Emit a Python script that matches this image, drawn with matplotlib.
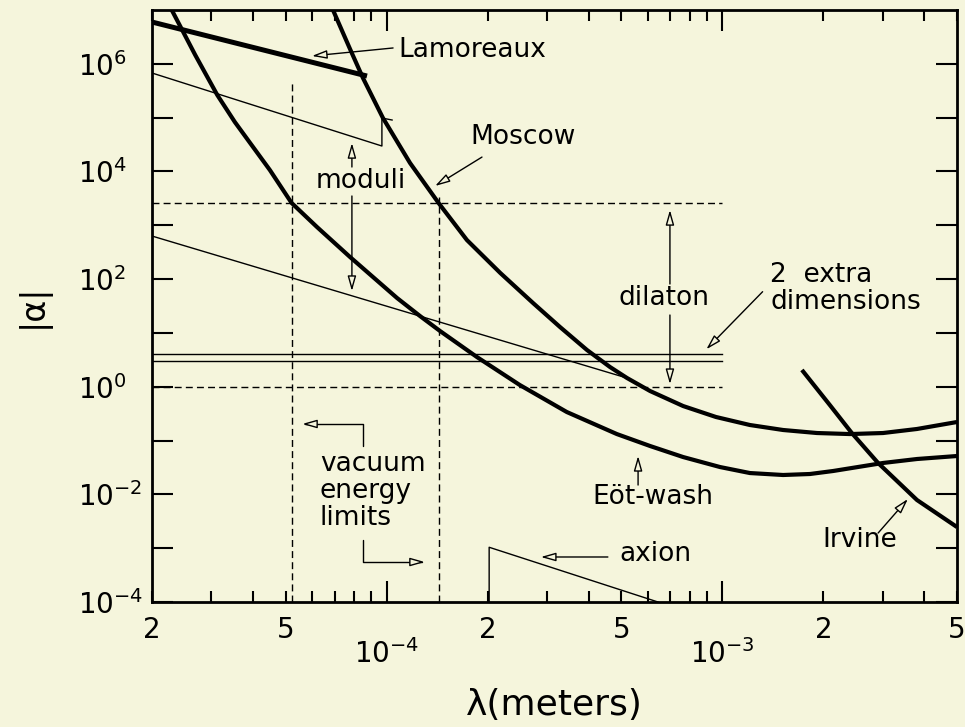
import numpy as np
import matplotlib.pyplot as plt

bg = '#F5F5DC'

# thick experimental limit curves (lambda in m, |alpha|)
eot_x = [2.29e-5, 2.46e-5, 2.69e-5, 3.13e-5, 3.53e-5, 3.92e-5, 4.49e-5, 5.21e-5,
         6.20e-5, 7.78e-5, 1.074e-4, 1.257e-4, 1.442e-4, 1.858e-4, 2.49e-4, 3.44e-4,
         4.85e-4, 6.09e-4, 7.64e-4, 9.84e-4, 1.208e-3, 1.517e-3, 1.824e-3, 2.14e-3,
         3.01e-3, 3.80e-3, 5.0e-3]
eot_y = [1.0e7, 4.25e6, 1.46e6, 2.63e5, 8.29e4, 3.38e4, 1.06e4, 2.6e3,
         929, 257, 44.5, 20.6, 10.85, 3.56, 1.08, 0.339,
         0.132, 0.0792, 0.0494, 0.0322, 0.0249, 0.0229, 0.0239, 0.0272,
         0.0383, 0.0454, 0.0516]

mos_x = [6.92e-5, 7.78e-5, 8.50e-5, 9.75e-5, 1.174e-4, 1.43e-4, 1.734e-4, 2.18e-4,
         2.73e-4, 3.284e-4, 3.952e-4, 4.627e-4, 5.20e-4, 6.09e-4, 7.64e-4, 9.57e-4,
         1.208e-3, 1.517e-3, 1.914e-3, 2.40e-3, 3.01e-3, 3.80e-3, 5.0e-3]
mos_y = [1.0e7, 1.88e6, 5.45e5, 9.84e4, 1.435e4, 2.56e3, 532, 130,
         35.9, 12.87, 4.81, 2.325, 1.452, 0.833, 0.438, 0.274,
         0.1944, 0.157, 0.138, 0.132, 0.138, 0.164, 0.221]

irv_x = [1.726e-3, 2.09e-3, 2.43e-3, 2.91e-3, 3.80e-3, 5.0e-3]
irv_y = [2.05, 0.457, 0.138, 0.0383, 7.85e-3, 2.47e-3]

lam_x = [2.0e-5, 8.74e-5]
lam_y = [5.98e6, 5.93e5]

# thin theory lines
mod1_x = [2.0e-5, 9.68e-5, 9.68e-5, 1.038e-4]
mod1_y = [6.75e5, 2.97e4, 9.84e4, 9.03e4]
mod2_x = [2.0e-5, 5.20e-4]
mod2_y = [631, 1.45]
extra_y = [4.0, 3.0]
axion_x = [2.02e-4, 2.02e-4, 6.43e-4]
axion_y = [1.0e-4, 1.04e-3, 1.0e-4]

# dashed guide lines
dash_h = [2.56e3, 1.0]
dash_v_x = [5.21e-5, 1.43e-4]
dash_v_top = [4.8e5, 3.35e3]

ytick_vals = 10.0 ** np.arange(-4, 7)
ytick_labels = ['$10^{%d}$' % e if e % 2 == 0 else '' for e in range(-4, 7)]
xmaj = [1e-4, 1e-3]
xmaj_labels = ['$10^{-4}$', '$10^{-3}$']
xmin = [m * 10.0 ** e for e in (-5, -4, -3) for m in range(2, 10) if m * 10.0 ** e <= 5e-3]
xmin_labels = [str(int(round(v / 10 ** np.floor(np.log10(v))))) if round(v / 10 ** np.floor(np.log10(v))) in (2, 5) else ''
               for v in xmin]

fig = plt.figure(figsize=(9.65, 7.27), dpi=100, facecolor=bg)
ax = fig.add_axes([152 / 965, 1 - 602 / 727, 805 / 965, 592 / 727])
ax.set_facecolor(bg)
ax.set_xscale('log')
ax.set_yscale('log')
ax.set_xlim(2e-5, 5e-3)
ax.set_ylim(1e-4, 1e7)

thick = dict(color='k', lw=3.0, solid_capstyle='butt', solid_joinstyle='round')
thin = dict(color='k', lw=1.0)
dash = dict(color='k', lw=1.0, ls=(0, (5, 3)))

ax.plot(eot_x, eot_y, **thick)
ax.plot(mos_x, mos_y, **thick)
ax.plot(irv_x, irv_y, **thick)
ax.plot(lam_x, lam_y, color='k', lw=3.6, solid_capstyle='butt')

ax.plot(mod1_x, mod1_y, **thin)
ax.plot(mod2_x, mod2_y, **thin)
for v in extra_y:
    ax.plot([2e-5, 1e-3], [v, v], **thin)
ax.plot(axion_x, axion_y, **thin)

for v in dash_h:
    ax.plot([2e-5, 1e-3], [v, v], **dash)
for xv, top in zip(dash_v_x, dash_v_top):
    ax.plot([xv, xv], [1e-4, top], **dash)

# annotations
fs = 19
aprops = dict(arrowstyle='-|>,head_length=0.6,head_width=0.17', fc=bg, ec='k',
              lw=1.0, mutation_scale=15, shrinkA=0, shrinkB=0)


def arrow(tail, tip, conn='arc3'):
    ax.annotate('', xy=tip, xytext=tail, arrowprops=dict(aprops, connectionstyle=conn))


ax.text(1.081e-4, 1.80e6, 'Lamoreaux', fontsize=fs, ha='left', va='center')
arrow((1.045e-4, 1.97e6), (5.99e-5, 1.40e6))

ax.text(2.55e-4, 4.37e4, 'Moscow', fontsize=fs, ha='center', va='center')
arrow((1.923e-4, 1.85e4), (1.394e-4, 5.37e3))

ax.text(8.39e-5, 6.64e3, 'moduli', fontsize=fs, ha='center', va='center')
arrow((7.88e-5, 1.21e4), (7.88e-5, 3.37e4))
arrow((7.88e-5, 3.50e3), (7.88e-5, 60.0))

ax.text(6.70e-4, 44.5, 'dilaton', fontsize=fs, ha='center', va='center')
arrow((6.98e-4, 81), (6.98e-4, 1.92e3))
arrow((6.98e-4, 21.5), (6.98e-4, 1.12))

ax.text(1.387e-3, 65.5, '2  extra\ndimensions', fontsize=fs, ha='left', va='center',
        linespacing=1.05)
arrow((1.318e-3, 58.3), (8.96e-4, 4.96))

ax.text(6.33e-5, 0.0115, 'vacuum\nenergy\nlimits', fontsize=fs, ha='left', va='center',
        linespacing=1.05)
arrow((8.50e-5, 0.0793), (5.60e-5, 0.203), 'angle,angleA=90,angleB=0,rad=0')
arrow((8.50e-5, 1.42e-3), (1.30e-4, 5.53e-4), 'angle,angleA=90,angleB=0,rad=0')

ax.text(6.21e-4, 8.93e-3, 'Eöt-wash', fontsize=fs, ha='center', va='center')
arrow((5.61e-4, 0.0149), (5.61e-4, 0.0517))

ax.text(4.95e-4, 7.79e-4, 'axion', fontsize=fs, ha='left', va='center')
arrow((4.56e-4, 6.86e-4), (2.88e-4, 6.86e-4))

ax.text(1.98e-3, 1.42e-3, 'Irvine', fontsize=fs, ha='left', va='center')
arrow((2.91e-3, 1.91e-3), (3.57e-3, 8.2e-3))

# axes, ticks
ax.set_yticks(ytick_vals, ytick_labels, ha='left')
ax.yaxis.set_minor_locator(plt.NullLocator())
ax.set_xticks(xmaj, xmaj_labels)
ax.set_xticks(xmin, xmin_labels, minor=True)

ax.tick_params(which='both', direction='in', top=True, right=True, width=1.5,
               labelsize=20, color='k')
ax.tick_params(axis='y', which='major', length=15, pad=53)
ax.tick_params(axis='x', which='major', length=15, pad=27)
ax.tick_params(axis='x', which='minor', length=8, pad=10)
for s in ax.spines.values():
    s.set_linewidth(2.0)

ax.set_ylabel('|α|', fontsize=24)
ax.yaxis.set_label_coords(-0.127, 0.5)
ax.set_xlabel('λ(meters)', fontsize=26)
ax.xaxis.set_label_coords(0.5, -0.145)

fig.savefig('out.png', dpi=100, facecolor=bg)
